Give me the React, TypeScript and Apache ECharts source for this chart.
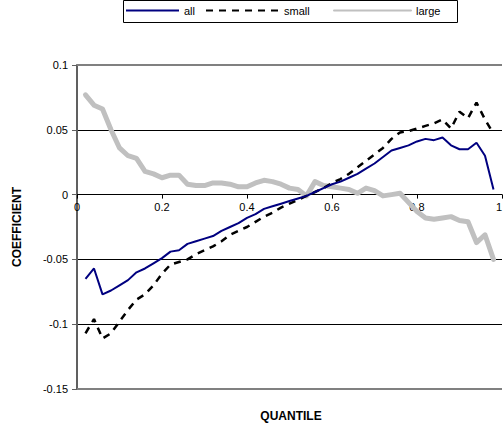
import React, { useEffect, useRef } from "react";
import * as echarts from "echarts";

const quantiles = [
  0.02, 0.04, 0.06, 0.08, 0.1, 0.12, 0.14, 0.16, 0.18, 0.2,
  0.22, 0.24, 0.26, 0.28, 0.3, 0.32, 0.34, 0.36, 0.38, 0.4,
  0.42, 0.44, 0.46, 0.48, 0.5, 0.52, 0.54, 0.56, 0.58, 0.6,
  0.62, 0.64, 0.66, 0.68, 0.7, 0.72, 0.74, 0.76, 0.78, 0.8,
  0.82, 0.84, 0.86, 0.88, 0.9, 0.92, 0.94, 0.96, 0.98,
];

const allValues = [
  -0.065, -0.057, -0.077, -0.074, -0.07, -0.066, -0.06, -0.057, -0.053, -0.049,
  -0.044, -0.043, -0.038, -0.036, -0.034, -0.032, -0.028, -0.025, -0.022, -0.018,
  -0.015, -0.011, -0.009, -0.007, -0.005, -0.003, -0.001, 0.002, 0.005, 0.008,
  0.01, 0.013, 0.016, 0.02, 0.024, 0.029, 0.034, 0.036, 0.038, 0.041,
  0.043, 0.042, 0.044, 0.038, 0.035, 0.035, 0.04, 0.03, 0.004,
];

const smallValues = [
  -0.107, -0.096, -0.111, -0.107, -0.098, -0.089, -0.081, -0.077, -0.07, -0.061,
  -0.054, -0.052, -0.05, -0.046, -0.043, -0.04, -0.036, -0.031, -0.028, -0.025,
  -0.021, -0.017, -0.014, -0.01, -0.007, -0.004, -0.001, 0.002, 0.005, 0.009,
  0.012, 0.016, 0.021, 0.026, 0.031, 0.036, 0.043, 0.048, 0.049, 0.051,
  0.053, 0.055, 0.058, 0.051, 0.064, 0.059, 0.071, 0.058, 0.047,
];

const largeValues = [
  0.077, 0.069, 0.066, 0.05, 0.036, 0.03, 0.028, 0.018, 0.016, 0.013,
  0.015, 0.015, 0.008, 0.007, 0.007, 0.009, 0.009, 0.008, 0.006, 0.006,
  0.009, 0.011, 0.01, 0.008, 0.005, 0.004, -0.001, 0.01, 0.007, 0.006,
  0.005, 0.004, 0.001, 0.005, 0.003, -0.001, 0.0, 0.001, -0.006, -0.013,
  -0.018, -0.019, -0.018, -0.017, -0.02, -0.021, -0.037, -0.031, -0.05,
];

const seriesNames = ["all", "small", "large"];
const xTitle = "QUANTILE";
const yTitle = "COEFFICIENT";

const FONT = "'Liberation Sans', Arial, sans-serif";

const pairs = (vals: number[]) => quantiles.map((q, i) => [q, vals[i]]);

const Y_MIN = -0.15;
const Y_MAX = 0.1;
const GRID_TOP = 65;
const GRID_H = 324;

export default function App() {
  const ref = useRef<HTMLDivElement>(null);
  useEffect(() => {
    if (!ref.current) return;
    const chart = echarts.init(ref.current, null, { renderer: "svg" });
    const legendBase = {
      top: 5,
      itemHeight: 10,
      padding: 0,
      textStyle: { fontFamily: FONT, fontSize: 11, color: "#000" },
      itemStyle: { color: "transparent", borderColor: "transparent", borderWidth: 0, opacity: 0 },
    };
    // x axis drawn at the y = 0 line: shift up from the grid bottom
    const zeroOffset = -(GRID_H * (0 - Y_MIN)) / (Y_MAX - Y_MIN);
    chart.setOption({
      animation: false,
      backgroundColor: "#fff",
      grid: {
        left: 77,
        top: GRID_TOP,
        width: 425,
        height: GRID_H,
        outerBoundsMode: "none",
        containLabel: false,
        show: false,
      },
      legend: [
        { ...legendBase, data: [seriesNames[0]], left: 125, itemWidth: 53 },
        { ...legendBase, data: [seriesNames[1]], left: 205, itemWidth: 73 },
        { ...legendBase, data: [seriesNames[2]], left: 333, itemWidth: 77 },
      ],
      xAxis: {
        type: "value",
        min: 0,
        max: 1,
        interval: 0.2,
        offset: zeroOffset,
        axisLine: { onZero: false, lineStyle: { color: "#000", width: 1 } },
        axisTick: { show: true, length: 4, lineStyle: { color: "#000" } },
        axisLabel: {
          fontFamily: FONT,
          fontSize: 11,
          color: "#000",
          margin: 7,
          showMinLabel: true,
          showMaxLabel: true,
          alignMaxLabel: "right",
        },
        splitLine: { show: false },
      },
      yAxis: {
        type: "value",
        min: Y_MIN,
        max: Y_MAX,
        interval: 0.05,
        name: yTitle,
        nameLocation: "middle",
        nameGap: 54,
        nameTextStyle: { fontFamily: FONT, fontSize: 12, fontWeight: "bold", color: "#000" },
        axisLine: { show: true, onZero: false, lineStyle: { color: "#606060", width: 2 } },
        axisTick: { show: true, length: 5, lineStyle: { color: "#606060" } },
        axisLabel: { fontFamily: FONT, fontSize: 11, color: "#000", margin: 9 },
        splitLine: {
          show: true,
          lineStyle: { color: ["#808080", "#000", "#000", "#000", "#000", "#808080"], width: 1 },
        },
      },
      graphic: [
        {
          type: "rect",
          shape: { x: 123.5, y: 0.5, width: 334, height: 22 },
          style: { fill: "none", stroke: "#000", lineWidth: 1 },
          z: 0,
        },
        {
          type: "text",
          x: 291,
          y: 416,
          style: {
            text: xTitle,
            font: `bold 12px ${FONT}`,
            fill: "#000",
            textAlign: "center",
            textVerticalAlign: "middle",
          },
        },
      ],
      series: [
        {
          name: seriesNames[0],
          type: "line",
          data: pairs(allValues),
          symbol: "none",
          lineStyle: { color: "#000080", width: 2 },
          itemStyle: { color: "#000080" },
          z: 4,
        },
        {
          name: seriesNames[1],
          type: "line",
          data: pairs(smallValues),
          symbol: "none",
          lineStyle: { color: "#000", width: 2.5, type: [7, 6] },
          itemStyle: { color: "#000" },
          z: 3,
        },
        {
          name: seriesNames[2],
          type: "line",
          data: pairs(largeValues),
          symbol: "none",
          lineStyle: { color: "#c0c0c0", width: 5, cap: "round", join: "round" },
          itemStyle: { color: "#c0c0c0" },
          z: 2,
          markLine: {
            silent: true,
            symbol: "none",
            label: { show: false },
            lineStyle: { color: "#808080", width: 2, type: "solid" },
            data: [{ yAxis: Y_MAX }, { yAxis: Y_MIN }],
          },
        },
      ],
    });
    return () => chart.dispose();
  }, []);
  return (
    <div
      ref={ref}
      style={{ position: "absolute", left: 0, top: 0, width: 503, height: 429 }}
    />
  );
}
